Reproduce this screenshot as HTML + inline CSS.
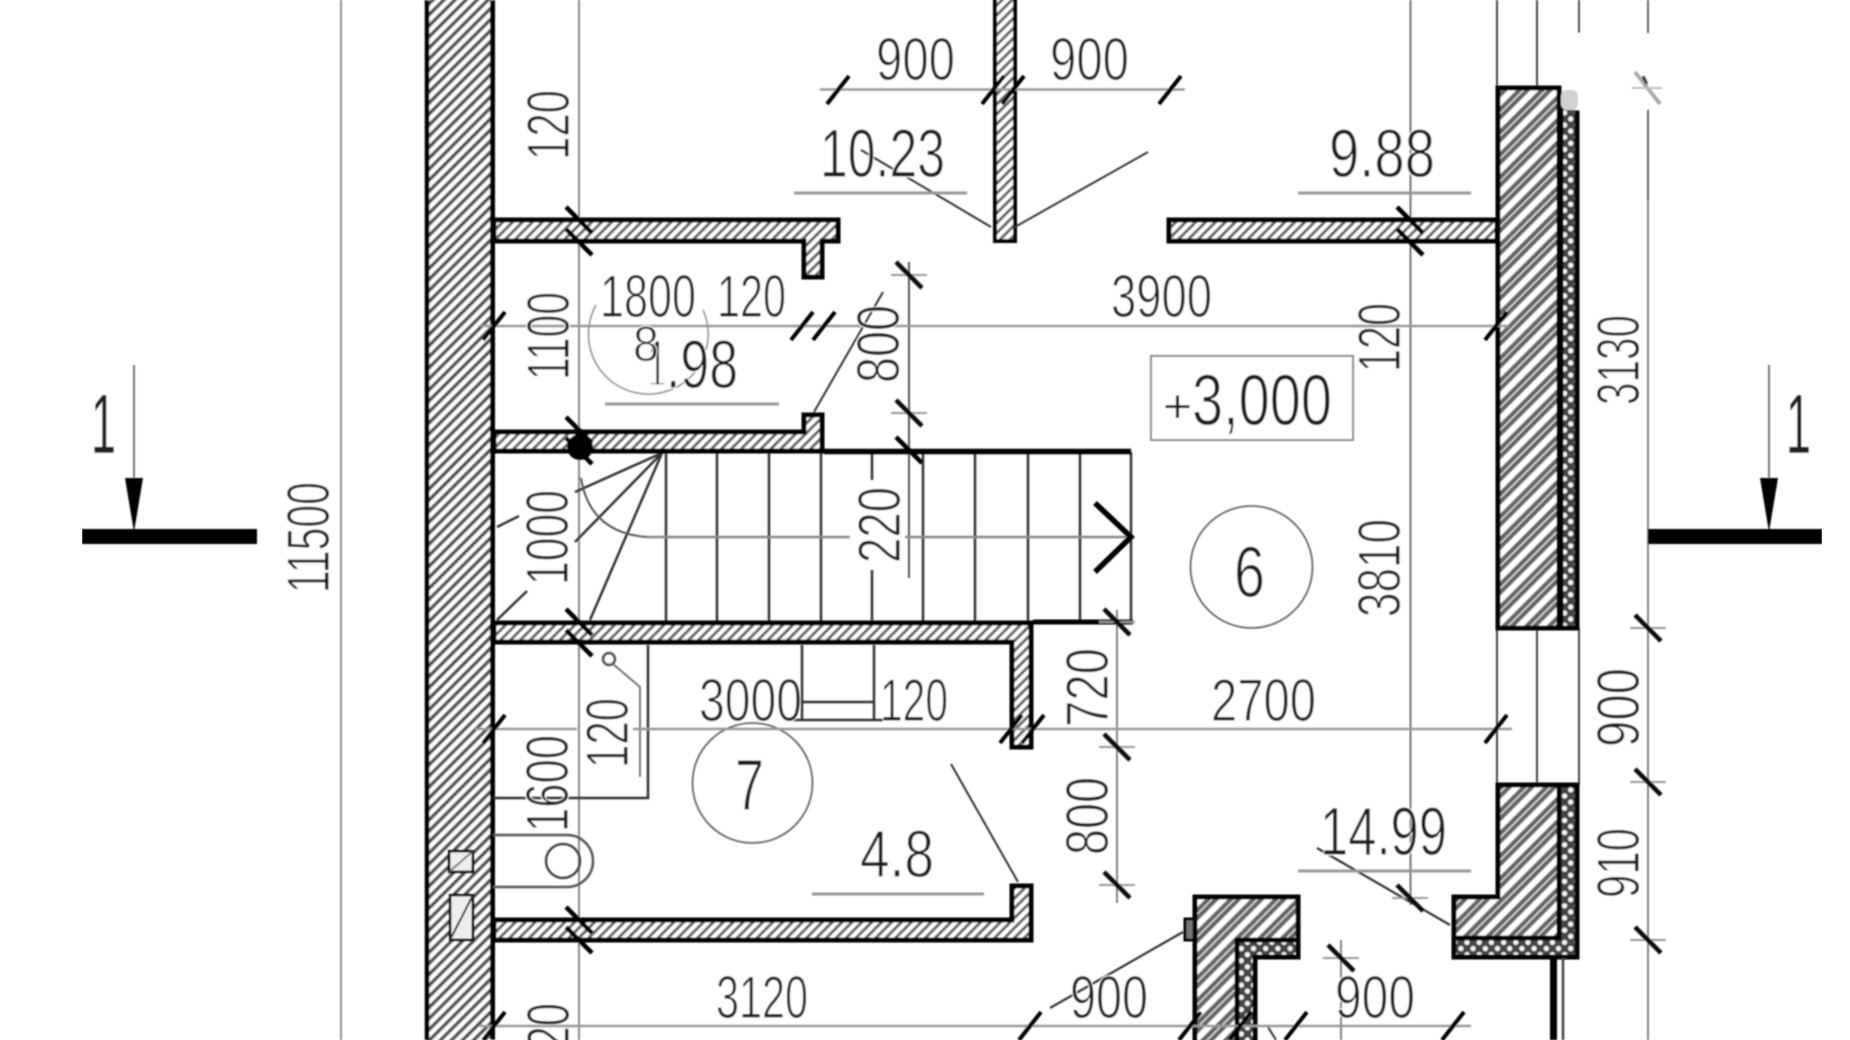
<!DOCTYPE html>
<html><head><meta charset="utf-8"><style>
html,body{margin:0;padding:0;background:#fff;width:1850px;height:1040px;overflow:hidden}
svg{display:block}
text{font-family:"Liberation Sans",sans-serif;fill:#1c1c1c;stroke:#fff;stroke-width:0.9px;font-size:60px}
</style></head><body>
<svg width="1850" height="1040" viewBox="0 0 1850 1040" xmlns="http://www.w3.org/2000/svg">
<defs>
<pattern id="h1" patternUnits="userSpaceOnUse" width="7.8" height="7.8" patternTransform="rotate(45)"><rect width="7.8" height="7.8" fill="#fff"/><rect width="3.6" height="7.8" fill="#555"/></pattern>
<pattern id="h2" patternUnits="userSpaceOnUse" width="7" height="7" patternTransform="rotate(45)"><rect width="7" height="7" fill="#fff"/><rect width="3" height="7" fill="#666"/></pattern>
<pattern id="h3" patternUnits="userSpaceOnUse" width="16" height="16" patternTransform="rotate(45)"><rect width="16" height="16" fill="#fff"/><rect width="4.5" height="16" fill="#666"/><rect x="5.5" width="4.5" height="16" fill="#666"/></pattern>
<pattern id="ins" patternUnits="userSpaceOnUse" width="12.2" height="12.2"><rect width="12.2" height="12.2" fill="#444"/><circle cx="3" cy="3" r="2.6" fill="#f4f4f4"/><circle cx="9.1" cy="9.1" r="2.6" fill="#f4f4f4"/></pattern>
<path id="f" d="M-11 14L11-14" stroke="#000" stroke-width="4" fill="none"/>
<path id="b" d="M-13-13L13 13" stroke="#000" stroke-width="4.5" fill="none"/>
<g id="bx"><path d="M-18 0H18" stroke="#999" stroke-width="2" fill="none"/><path d="M-13-13L13 13" stroke="#111" stroke-width="4.5" fill="none"/></g>
<clipPath id="noFoot"><rect x="630" y="330" width="60" height="54"/></clipPath>
<filter id="bl" x="0" y="0" width="100%" height="100%"><feGaussianBlur stdDeviation="0.8"/></filter>
</defs>
<rect width="1850" height="1040" fill="#fff"/>
<g filter="url(#bl)">
<!-- thin verticals -->
<g fill="none" stroke="#777" stroke-width="1.6">
<path d="M341 0V1040"/><path d="M579 0V1040" stroke="#888" stroke-width="2"/>
<path d="M1410.5 0V905" stroke="#555"/><path d="M1648 0V1040" stroke="#666"/>
<path d="M1497 0V90M1537 0V90M1579 0V90M1497 628V785M1537 628V785M1579 628V785" stroke="#444" stroke-width="2"/>
<path d="M909 262V578" stroke="#555" stroke-width="2"/><path d="M1117 610V903" stroke="#666"/>
<path d="M1341 940V1040" stroke="#666"/>
</g>
<!-- section marks -->
<rect x="82" y="529" width="175" height="15" fill="#000"/>
<rect x="1648" y="529" width="174" height="15" fill="#000"/>
<path d="M134 365V480M1769 365V480" stroke="#777" stroke-width="2"/>
<path d="M125 478H143L134 532ZM1760 478H1778L1769 532Z" fill="#000"/>
<text x="91" y="453" textLength="25" lengthAdjust="spacingAndGlyphs" style="font-size:84px;stroke-width:.4px">1</text>
<text x="1786" y="453" textLength="25" lengthAdjust="spacingAndGlyphs" style="font-size:84px;stroke-width:.4px">1</text>
<!-- left wall -->
<rect x="427" y="-5" width="66" height="1050" fill="url(#h1)"/>
<path d="M427 0V1040" stroke="#000" stroke-width="4.5"/><path d="M492.5 0V1040" stroke="#000" stroke-width="5"/>
<!-- wall fixtures -->
<rect x="449" y="851" width="24" height="21" fill="#eee" stroke="#111" stroke-width="3"/><path d="M449 872L473 851" stroke="#555" stroke-width="1.5"/>
<rect x="450" y="895" width="23" height="45" fill="#eee" stroke="#111" stroke-width="3"/><path d="M450 940L473 895" stroke="#333" stroke-width="2"/>
<!-- stairs -->
<g fill="none" stroke="#333" stroke-width="2.5">
<path d="M666 452V622M717 452V622M769 452V622M821 452V622M872 452V480M872 570V622M923 452V622M975 452V622M1028 452V622M1080 452V622M1131 452V622"/>
<path d="M662 453L575 492M662 453L575 542M662 453L590 620M497 527L519 516M497 620L527 591"/>
<path d="M581 478Q590 533 647 537" stroke="#555" stroke-width="2"/>
<path d="M647 537H850M905 537H1128" stroke="#888" stroke-width="2.5"/>
</g>
<path d="M824 451.500H1131" stroke="#000" stroke-width="5.500"/>
<path d="M1033 622H1133" stroke="#000" stroke-width="5"/>
<path d="M1095 503L1131 537L1095 572" stroke="#000" stroke-width="5.500" fill="none"/>
<!-- thin walls -->
<g stroke="#000" stroke-width="5" stroke-linejoin="miter">
<path d="M494 220H838V241H822V277H804V241H494Z" fill="url(#h2)"/>
<path d="M494 432H804V415H822V451H494Z" fill="url(#h2)"/>
<path d="M494 623H1031V747H1012V642H494Z" fill="url(#h2)"/>
<path d="M494 920H1012V886H1031V940H494Z" fill="url(#h2)"/>
<path d="M995 -5H1015V241H995Z" fill="url(#h2)" stroke-width="4"/>
<path d="M1169 220H1497V241H1169Z" fill="url(#h2)"/>
</g>
<!-- right walls -->
<g stroke="#000" stroke-linejoin="miter">
<rect x="1498" y="88" width="61" height="540" fill="url(#h3)" stroke-width="5"/>
<rect x="1561" y="88" width="16" height="540" fill="url(#ins)" stroke-width="5"/>
<path d="M1498 785H1559V938H1454V897H1498Z" fill="url(#h3)" stroke-width="5"/>
<path d="M1559 785H1577V957H1454V938H1559Z" fill="url(#ins)" stroke-width="5"/>
<!-- chimney -->
<path d="M1195 1045V897H1298V940H1237V1045Z" fill="url(#h3)" stroke-width="5"/>
<path d="M1237 1045V940H1298V957H1255V1045Z" fill="url(#ins)" stroke-width="5"/>
<rect x="1185" y="919" width="9" height="21" fill="#777" stroke-width="3"/>
</g>
<path d="M1553.500 958V1040" stroke="#000" stroke-width="7"/><path d="M1563 958V1040" stroke="#444" stroke-width="2.5"/>
<!-- white patch at top right -->
<rect x="1562" y="33" width="91" height="77" rx="8" fill="#fff"/>
<rect x="1561" y="90" width="17" height="20" rx="6" fill="#d2d2d2"/>
<path d="M1579 0V33M1648 0V33M1648 110V200" stroke="#555" stroke-width="1.6"/>
<path d="M1635 72L1660 104" stroke="#aaa" stroke-width="4"/><path d="M1632 88H1662" stroke="#bbb" stroke-width="2"/><path d="M1643 76L1647 84" stroke="#222" stroke-width="3"/>
<!-- toilet room -->
<g fill="none" stroke="#333" stroke-width="2.500">
<path d="M648 645V798H493"/>
<path d="M493 835H567A26 26 0 0 1 567 887H493" stroke="#555"/>
<circle cx="563" cy="861" r="17" stroke="#444"/>
<circle cx="609" cy="659" r="6" stroke="#555"/>
<path d="M613 664L640 687V777" stroke="#777" stroke-width="2"/>
<path d="M802 645V720M874 645V720M802 702H874" /><path d="M785 720H892"/>
</g>
<!-- leaders -->
<g fill="none" stroke="#333" stroke-width="2">
<path d="M861 150L991 227M1148 152L1013 228M883 292L814 412M951 764L1018 882"/>
<path d="M1317 848L1450 925M1183 932L1050 1008" stroke-width="2.200"/>
<path d="M1268 1027L1276 1040"/>
</g>
<!-- circles -->
<g fill="none" stroke="#666" stroke-width="1.800">
<circle cx="752.500" cy="783" r="60"/>
<circle cx="1251.500" cy="567" r="61"/>
<path d="M596 305A60 60 0 0 0 695 372M703 310A60 60 0 0 1 706 350" stroke="#888" stroke-width="1.400"/>
</g>
<rect x="1151" y="356" width="202" height="84" fill="#fff" stroke="#888" stroke-width="2"/>
<!-- underlines -->
<g fill="none" stroke="#999" stroke-width="3">
<path d="M794 193H967M1298 193H1471M605 404H779M812 894H984M1298 871H1471"/>
</g>
<!-- dim lines -->
<g fill="none" stroke="#999" stroke-width="2.500">
<path d="M820 89.500H1185M481 326H1509M475 729H577M633 729H1512M480 1026H1471"/>
</g>
<use href="#f" x="838" y="90"/><use href="#f" x="993" y="90"/><use href="#f" x="1013" y="90"/><use href="#f" x="1170" y="90"/>
<use href="#f" x="494" y="326"/><use href="#f" x="802" y="326"/><use href="#f" x="824" y="326"/><use href="#f" x="1496" y="326"/>
<use href="#f" x="494" y="729"/><use href="#f" x="1011" y="729"/><use href="#f" x="1033" y="729"/><use href="#f" x="1496" y="729"/>
<use href="#f" x="494" y="1026"/><use href="#f" x="1030" y="1026"/><use href="#f" x="1190" y="1026"/><use href="#f" x="1240" y="1026"/><use href="#f" x="1296" y="1026"/><use href="#f" x="1453" y="1026"/>
<use href="#b" x="579" y="220"/><use href="#b" x="579" y="242"/><use href="#b" x="579" y="622"/><use href="#b" x="579" y="643"/><use href="#b" x="579" y="920"/><use href="#b" x="579" y="940"/>
<use href="#b" x="579" y="430"/><circle cx="580" cy="447" r="13" fill="#000"/><use href="#b" x="579" y="451"/>
<use href="#b" x="1410" y="220"/><use href="#b" x="1410" y="242"/>
<use href="#bx" x="909" y="275"/><use href="#bx" x="909" y="413"/><use href="#b" x="909" y="450"/>
<use href="#bx" x="1117" y="622"/><use href="#bx" x="1117" y="747"/><use href="#bx" x="1117" y="885"/>
<use href="#bx" x="1648" y="628"/><use href="#bx" x="1648" y="782"/><use href="#bx" x="1648" y="940"/>
<use href="#bx" x="1410" y="898"/><use href="#bx" x="1341" y="958"/>
<!-- horizontal text -->
<text x="876" y="80" textLength="79" lengthAdjust="spacingAndGlyphs">900</text>
<text x="1050" y="80" textLength="79" lengthAdjust="spacingAndGlyphs">900</text>
<text x="820" y="177" textLength="125" lengthAdjust="spacingAndGlyphs" style="font-size:69px">10.23</text>
<text x="1329" y="177" textLength="106" lengthAdjust="spacingAndGlyphs" style="font-size:69px">9.88</text>
<text x="600" y="317" textLength="96" lengthAdjust="spacingAndGlyphs">1800</text>
<text x="717" y="317" textLength="69" lengthAdjust="spacingAndGlyphs">120</text>
<text x="1111" y="317" textLength="101" lengthAdjust="spacingAndGlyphs">3900</text>
<text x="1163" y="422" textLength="29" lengthAdjust="spacingAndGlyphs" style="font-size:46px;stroke-width:.3px">+</text>
<text x="1192" y="425" textLength="140" lengthAdjust="spacingAndGlyphs" style="font-size:72px">3,000</text>
<text x="648" y="388" textLength="18" lengthAdjust="spacingAndGlyphs" clip-path="url(#noFoot)" style="font-size:69px">1</text>
<text x="666" y="388" textLength="72" lengthAdjust="spacingAndGlyphs" style="font-size:69px">.98</text>
<text x="633" y="361" textLength="26" lengthAdjust="spacingAndGlyphs" style="font-size:50px">8</text>
<text x="699" y="721" textLength="103" lengthAdjust="spacingAndGlyphs">3000</text>
<text x="880" y="721" textLength="68" lengthAdjust="spacingAndGlyphs">120</text>
<text x="1211" y="721" textLength="105" lengthAdjust="spacingAndGlyphs">2700</text>
<text x="1320" y="855" textLength="127" lengthAdjust="spacingAndGlyphs" style="font-size:69px">14.99</text>
<text x="860" y="877" textLength="74" lengthAdjust="spacingAndGlyphs" style="font-size:67px">4.8</text>
<text x="716" y="1018" textLength="92" lengthAdjust="spacingAndGlyphs">3120</text>
<text x="1070" y="1018" textLength="78" lengthAdjust="spacingAndGlyphs">900</text>
<text x="1335" y="1018" textLength="80" lengthAdjust="spacingAndGlyphs">900</text>
<text x="735" y="810" textLength="29" lengthAdjust="spacingAndGlyphs" style="font-size:72px">7</text>
<text x="1234" y="597" textLength="31" lengthAdjust="spacingAndGlyphs" style="font-size:72px">6</text>
<!-- vertical text -->
<text transform="translate(569 160) rotate(-90)" textLength="70" lengthAdjust="spacingAndGlyphs">120</text>
<text transform="translate(569 380) rotate(-90)" textLength="88" lengthAdjust="spacingAndGlyphs">1100</text>
<text transform="translate(329 593) rotate(-90)" textLength="111" lengthAdjust="spacingAndGlyphs">11500</text>
<text transform="translate(568 585) rotate(-90)" textLength="95" lengthAdjust="spacingAndGlyphs">1000</text>
<text transform="translate(568 832) rotate(-90)" textLength="97" lengthAdjust="spacingAndGlyphs">1600</text>
<text transform="translate(628 768) rotate(-90)" textLength="70" lengthAdjust="spacingAndGlyphs">120</text>
<text transform="translate(899 383) rotate(-90)" textLength="78" lengthAdjust="spacingAndGlyphs">800</text>
<text transform="translate(900 563) rotate(-90)" textLength="76" lengthAdjust="spacingAndGlyphs">220</text>
<text transform="translate(1400 372) rotate(-90)" textLength="69" lengthAdjust="spacingAndGlyphs">120</text>
<text transform="translate(1639 405) rotate(-90)" textLength="90" lengthAdjust="spacingAndGlyphs">3130</text>
<text transform="translate(1400 617) rotate(-90)" textLength="98" lengthAdjust="spacingAndGlyphs">3810</text>
<text transform="translate(1108 727) rotate(-90)" textLength="79" lengthAdjust="spacingAndGlyphs">720</text>
<text transform="translate(1108 855) rotate(-90)" textLength="78" lengthAdjust="spacingAndGlyphs">800</text>
<text transform="translate(1639 747) rotate(-90)" textLength="79" lengthAdjust="spacingAndGlyphs">900</text>
<text transform="translate(1639 898) rotate(-90)" textLength="70" lengthAdjust="spacingAndGlyphs">910</text>
<text transform="translate(569 1073) rotate(-90)" textLength="70" lengthAdjust="spacingAndGlyphs">120</text>
</g>
</svg>
</body></html>
